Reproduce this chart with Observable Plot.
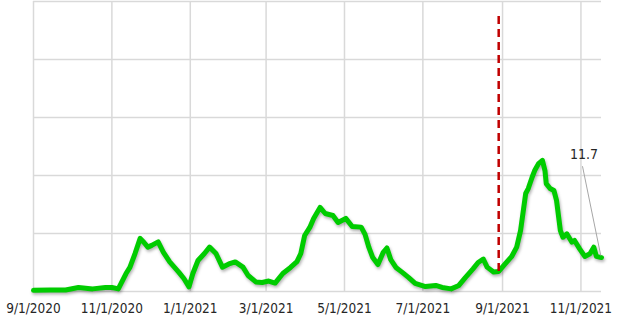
<!DOCTYPE html>
<html>
<head>
<meta charset="utf-8">
<script src="https://cdn.jsdelivr.net/npm/d3@7"></script>
<script src="https://cdn.jsdelivr.net/npm/@observablehq/plot@0.6"></script>
<style>
  html, body { margin: 0; padding: 0; background: #fff; }
</style>
</head>
<body>
<div id="chart"></div>
<script>
// ---- data ----
const dates = [
  "2020-09-01","2020-09-14","2020-09-26","2020-10-06","2020-10-17","2020-10-27","2020-11-01","2020-11-06",
  "2020-11-12","2020-11-15","2020-11-19","2020-11-23","2020-11-26","2020-11-29","2020-12-02","2020-12-07",
  "2020-12-11","2020-12-16","2020-12-23","2020-12-27","2020-12-31","2021-01-03","2021-01-07","2021-01-12",
  "2021-01-16","2021-01-21","2021-01-26","2021-01-31","2021-02-05","2021-02-11","2021-02-15","2021-02-21",
  "2021-02-26","2021-03-03","2021-03-08","2021-03-14","2021-03-20","2021-03-25","2021-03-28","2021-03-31",
  "2021-04-04","2021-04-07","2021-04-12","2021-04-16","2021-04-22","2021-04-26","2021-05-02","2021-05-07",
  "2021-05-14","2021-05-17","2021-05-20","2021-05-23","2021-05-27","2021-05-31","2021-06-03","2021-06-06",
  "2021-06-10","2021-06-15","2021-06-20","2021-06-25","2021-07-03","2021-07-11","2021-07-16","2021-07-23",
  "2021-07-29","2021-08-03","2021-08-09","2021-08-13","2021-08-17","2021-08-20","2021-08-25","2021-08-29",
  "2021-09-03","2021-09-08","2021-09-12","2021-09-15","2021-09-19","2021-09-21","2021-09-24","2021-09-26",
  "2021-09-29","2021-10-02","2021-10-04","2021-10-05","2021-10-08","2021-10-11","2021-10-13","2021-10-16",
  "2021-10-18","2021-10-21","2021-10-25","2021-10-27","2021-10-31","2021-11-04","2021-11-08","2021-11-11",
  "2021-11-13","2021-11-17"
];
const values = [
  0.4, 0.5, 0.5, 1.4, 0.9, 1.4, 1.4, 0.9,
  6.2, 8.3, 13.1, 18.3, 16.9, 15.3, 15.9, 17.1,
  13.6, 10.2, 6.7, 4.5, 1.6, 6.2, 10.7, 13.1,
  15.3, 13.1, 8.4, 9.5, 10.2, 8.4, 5.5, 3.3,
  3.1, 3.6, 2.9, 6.2, 8.3, 10.3, 13.1, 19.3,
  22.1, 25.2, 29.0, 26.9, 26.2, 23.8, 25.2, 22.4,
  22.2, 19.7, 15.2, 11.7, 9.3, 13.4, 15.0, 11.0,
  8.3, 6.6, 4.8, 2.8, 1.7, 2.1, 1.4, 0.9,
  2.1, 4.8, 7.8, 10.0, 11.2, 8.4, 6.7, 6.9,
  9.5, 12.0, 15.3, 21.0, 33.8, 35.5, 39.4, 41.7,
  44.1, 45.2, 41.7, 37.2, 35.5, 34.8, 31.4, 21.0,
  18.7, 19.9, 17.0, 17.6, 14.7, 12.1, 13.0, 15.3,
  12.1, 11.7
];
const xTickLabels = ["2020-09-01","2020-11-01","2021-01-01","2021-03-01","2021-05-01","2021-07-01","2021-09-01","2021-11-01"];
const yGridValues = [0, 20, 40, 60, 80, 100];
const xDomain = ["2020-09-01", "2021-11-17"];
const yDomain = [0, 100];

// event marker (red dashed line)
const eventDate = "2021-08-29";
const eventTop = 96;

// last-value callout
const calloutText = "11.7";
const calloutLabel = {date: "2021-11-03T09:00", value: 47.2};
const calloutLeader = {x1: "2021-11-02T05:00", y1: 43.2, x2: "2021-11-16T10:00", y2: 12.4};

// ---- build ----
const parse = s => new Date(s.length > 10 ? s + "Z" : s);
const data = dates.map((d, i) => ({date: parse(d), value: values[i]}));
const eventValue = values[dates.indexOf(eventDate)];
const fmt = d3.utcFormat("%-m/%-d/%Y");

const chart = Plot.plot({
  width: 622,
  height: 316,
  marginLeft: 33,
  marginRight: 21,
  marginTop: 1,
  marginBottom: 25,
  style: {
    fontFamily: "'Liberation Sans Narrow', 'DejaVu Sans Condensed', 'Arial Narrow', sans-serif",
    color: "#262626",
    background: "#fff",
    overflow: "visible"
  },
  x: {type: "utc", domain: xDomain.map(parse)},
  y: {domain: yDomain, axis: null},
  marks: [
    Plot.gridY(yGridValues, {stroke: "#d9d9d9", strokeOpacity: 1, strokeWidth: 1.5}),
    Plot.gridX(xTickLabels.map(parse), {stroke: "#d9d9d9", strokeOpacity: 1, strokeWidth: 1.5}),
    Plot.axisX(xTickLabels.map(parse), {
      tickSize: 0, tickPadding: 12, tickFormat: fmt, fontSize: 13.5, fill: "#262626"
    }),
    Plot.line(data, {
      x: "date", y: "value",
      stroke: "#00cc00", strokeWidth: 5,
      strokeLinejoin: "round", strokeLinecap: "round",
      imageFilter: "drop-shadow(1px 2px 1.5px rgba(0,0,0,0.3))"
    }),
    Plot.ruleX([{date: parse(eventDate), y1: eventValue, y2: eventTop}], {
      x: "date", y1: "y1", y2: "y2",
      stroke: "#c00000", strokeWidth: 2.5, strokeDasharray: "8,5"
    }),
    Plot.link([calloutLeader], {
      x1: d => parse(d.x1), y1: "y1", x2: d => parse(d.x2), y2: "y2",
      stroke: "#a6a6a6", strokeWidth: 1
    }),
    Plot.text([calloutLabel], {
      x: d => parse(d.date), y: "value", text: () => calloutText,
      fontSize: 14, fill: "#262626"
    })
  ]
});
document.getElementById("chart").appendChild(chart);
</script>
</body>
</html>
